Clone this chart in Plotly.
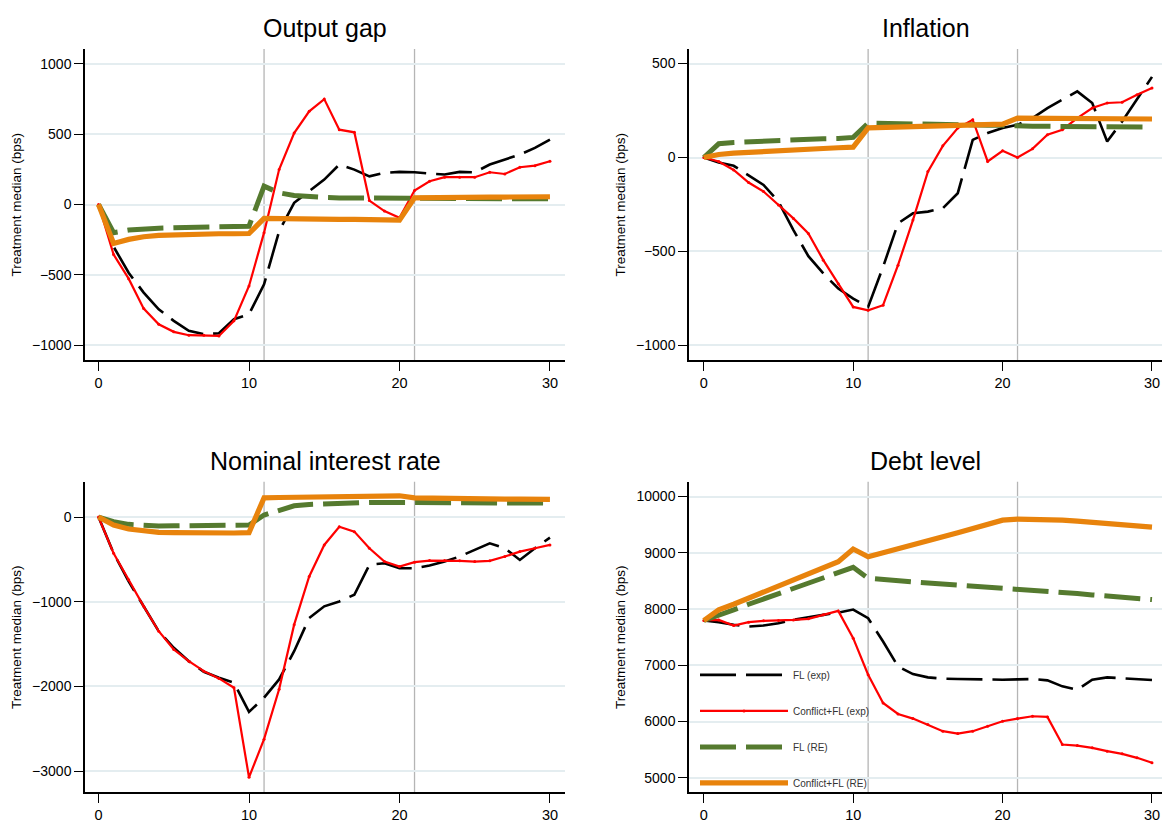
import plotly.graph_objects as go

W, H = 1163, 823
x = list(range(31))

# ---- Output gap ----
og_fl_exp = [0, -300, -485, -626, -745, -827, -898, -922, -915, -815, -780, -567, -190, 12, 95, 177,
             284, 248, 200, 225, 232, 229, 220, 213, 232, 229, 284, 319, 355, 402, 461]
og_cfl_exp = [0, -355, -527, -740, -851, -905, -929, -929, -934, -827, -579, -200, 248, 508, 662, 749,
              532, 513, 28, -47, -95, 99, 165, 194, 194, 194, 229, 217, 265, 276, 307]
og_fl_re = [0, -200, -182, -172, -168, -165, -163, -161, -159, -157, -154, 130, 83, 64, 54, 50,
            47, 46, 45, 44, 43, 42, 41, 41, 40, 40, 40, 40, 40, 40, 40]
og_cfl_re = [0, -277, -248, -229, -220, -215, -213, -210, -208, -208, -206, -99, -102, -102, -103, -104,
             -105, -106, -106, -107, -111, 47, 50, 51, 52, 52, 53, 53, 54, 54, 55]

# ---- Inflation ----
inf_fl_exp = [0, -27, -44, -93, -146, -235, -386, -525, -617, -697, -751, -795, -582, -350, -297, -288,
              -270, -190, 94, 130, 157, 174, 210, 263, 308, 352, 290, 85, 192, 308, 429]
inf_cfl_exp = [0, -21, -66, -133, -181, -253, -324, -404, -546, -671, -795, -813, -786, -573, -333, -75,
               62, 157, 201, -21, 36, 0, 46, 121, 148, 210, 263, 290, 294, 334, 370]
inf_fl_re = [0, 73, 80, 84, 87, 91, 94, 96, 100, 101, 107, 183, 181, 178, 176, 175,
             174, 173, 172, 172, 171, 167, 166, 166, 165, 165, 164, 164, 163, 163, 162]
inf_cfl_re = [0, 16, 23, 28, 34, 37, 41, 44, 48, 52, 55, 158, 160, 162, 164, 165,
              167, 169, 171, 173, 178, 210, 209, 209, 208, 208, 207, 207, 206, 206, 205]

# ---- Nominal interest rate ----
nir_fl_exp = [0, -427, -760, -1054, -1348, -1544, -1701, -1827, -1897, -1956, -2301, -2132, -1917, -1584,
              -1192, -1054, -996, -917, -564, -545, -604, -604, -572, -525, -466, -388, -310, -368, -506,
              -368, -243]
nir_cfl_exp = [0, -427, -741, -1054, -1348, -1564, -1701, -1819, -1905, -2015, -3073, -2622, -2034, -1270,
               -702, -329, -114, -172, -368, -525, -584, -533, -514, -514, -517, -525, -517, -466, -408,
               -368, -329]
nir_fl_re = [0, -55, -86, -102, -106, -104, -103, -102, -101, -100, -94, 24, 82, 133, 149, 157,
             165, 170, 172, 172, 172, 168, 167, 167, 166, 166, 165, 165, 165, 165, 165]
nir_cfl_re = [0, -94, -141, -165, -180, -184, -188, -188, -188, -188, -184, 227, 231, 235, 235, 235,
              235, 239, 243, 247, 251, 227, 222, 220, 218, 216, 214, 212, 211, 209, 208]

# ---- Debt level ----
dl_fl_exp = [7796, 7766, 7719, 7689, 7707, 7748, 7807, 7855, 7896, 7937, 7991, 7837, 7423, 6980, 6844,
             6785, 6761, 6755, 6749, 6744, 6744, 6749, 6755, 6732, 6625, 6566, 6744, 6785, 6773, 6761, 6738]
dl_cfl_exp = [7796, 7807, 7707, 7766, 7790, 7796, 7807, 7825, 7896, 7967, 7482, 6832, 6330, 6135, 6052,
              5946, 5828, 5786, 5828, 5916, 6005, 6052, 6094, 6082, 5591, 5573, 5532, 5473, 5426, 5355, 5266]
dl_fl_re = [7796, 7884, 7985, 8085, 8180, 8280, 8369, 8463, 8558, 8652, 8741, 8546, 8517, 8499, 8481,
            8463, 8446, 8428, 8410, 8392, 8369, 8351, 8333, 8316, 8292, 8274, 8251, 8233, 8215, 8192, 8168]
dl_cfl_re = [7796, 7985, 8085, 8192, 8298, 8404, 8511, 8617, 8735, 8842, 9066, 8930, 9001, 9078, 9149,
             9220, 9285, 9356, 9433, 9509, 9580, 9598, 9598, 9592, 9580, 9563, 9545, 9527, 9504, 9480, 9456]

series_names = ["FL (exp)", "Conflict+FL (exp)", "FL (RE)", "Conflict+FL (RE)"]
titles = ["Output gap", "Inflation", "Nominal interest rate", "Debt level"]
panel_data = [
    [og_fl_exp, og_cfl_exp, og_fl_re, og_cfl_re],
    [inf_fl_exp, inf_cfl_exp, inf_fl_re, inf_cfl_re],
    [nir_fl_exp, nir_cfl_exp, nir_fl_re, nir_cfl_re],
    [dl_fl_exp, dl_cfl_exp, dl_fl_re, dl_cfl_re],
]
y_ticks = [
    [-1000, -500, 0, 500, 1000],
    [-1000, -500, 0, 500],
    [-3000, -2000, -1000, 0],
    [5000, 6000, 7000, 8000, 9000, 10000],
]
x_ticks = [0, 10, 20, 30]
vlines = [11, 21]

# layout geometry (pixels)
y_ranges = [[-1106, 1106], [-1078, 578], [-3247, 416], [4746, 10261]]
x_ranges = [[-0.9, 31.0], [-0.99, 30.67], [-0.9, 31.0], [-0.99, 30.67]]
px_x = [(85, 565), (689, 1162), (85, 565), (689, 1162)]
px_y = [(49, 361), (49, 361), (483, 794), (483, 794)]

styles = [
    dict(color="#000000", width=2.6, dash="36px,10px"),
    dict(color="#ff0000", width=2.2, dash="solid"),
    dict(color="#557a2f", width=5, dash="36px,10px"),
    dict(color="#e8830c", width=5.2, dash="solid"),
]

FONT = "Liberation Sans, Arial, Helvetica, sans-serif"
fig = go.Figure()
grid = "#e4edf0"

for p in range(4):
    sfx = "" if p == 0 else str(p + 1)
    xa, ya = "x" + sfx, "y" + sfx
    for s in range(4):
        fig.add_trace(go.Scatter(
            x=x, y=panel_data[p][s], xaxis=xa, yaxis=ya,
            mode="lines+markers" if s == 1 else "lines",
            line=styles[s], marker=dict(size=3, color=styles[s]["color"]),
            name=series_names[s], legendgroup=series_names[s],
            showlegend=(p == 3), hoverinfo="skip",
        ))
    x0, x1 = px_x[p]
    y0, y1 = px_y[p]
    fig.layout["xaxis" + sfx] = dict(
        domain=[x0 / W, x1 / W], anchor=ya, range=x_ranges[p],
        tickvals=x_ticks, ticks="outside", ticklen=9, tickwidth=1.3, tickcolor="black",
        showline=True, linecolor="black", linewidth=1.5, showgrid=False, zeroline=False,
        tickfont=dict(size=14.5, color="black", family=FONT),
    )
    fig.layout["yaxis" + sfx] = dict(
        domain=[1 - y1 / H, 1 - y0 / H], anchor=xa, range=y_ranges[p],
        tickvals=y_ticks[p], tickformat="d", ticks="outside", ticklen=9, tickwidth=1.3,
        tickcolor="black",
        showline=True, linecolor="black", linewidth=1.5, showgrid=True, gridcolor=grid,
        gridwidth=1.5, zeroline=False,
        tickfont=dict(size=14, color="black", family=FONT),
    )
    for v in vlines:
        fig.add_shape(type="line", xref=xa, yref=ya + " domain", x0=v, x1=v, y0=0, y1=1,
                      line=dict(color="#b5b5b5", width=1.3), layer="below")
    fig.add_annotation(text=titles[p], xref="paper", yref="paper",
                       x=((x0 + x1) / 2) / W, y=1 - (y0 - 21) / H, xanchor="center", yanchor="middle",
                       showarrow=False, font=dict(size=25, color="black", family=FONT))
    fig.add_annotation(text="Treatment median (bps)", xref="paper", yref="paper",
                       x=(x0 - 68) / W, y=1 - ((y0 + y1) / 2) / H, xanchor="center", yanchor="middle",
                       textangle=-90, showarrow=False, font=dict(size=13.5, color="black", family=FONT))

fig.update_layout(
    width=W, height=H, margin=dict(l=0, r=0, t=0, b=0),
    paper_bgcolor="white", plot_bgcolor="white",
    font=dict(family=FONT),
    legend=dict(x=695 / W, y=1 - 662 / H, xanchor="left", yanchor="top",
                bgcolor="rgba(0,0,0,0)", borderwidth=0, itemwidth=88,
                traceorder="grouped", tracegroupgap=17,
                font=dict(size=10, color="#333333", family=FONT)),
)

fig.write_html("out.html")
